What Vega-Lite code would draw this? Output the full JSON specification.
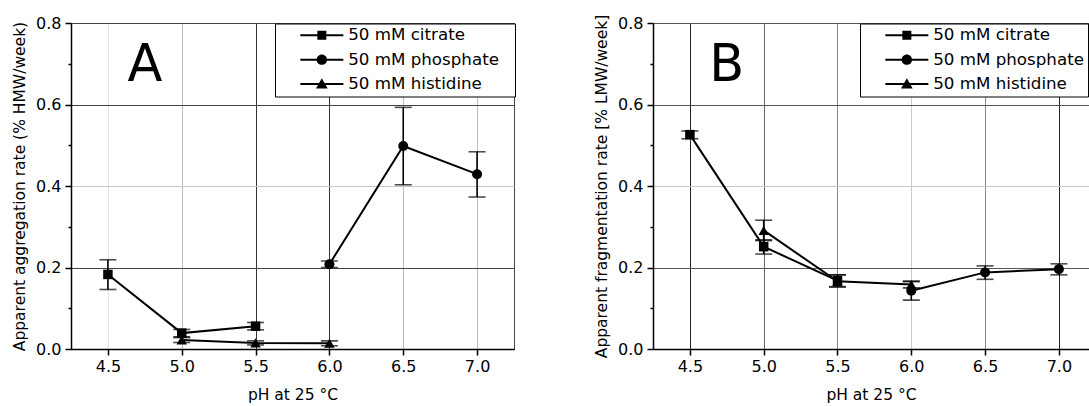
{
  "$schema": "https://vega.github.io/schema/vega-lite/v6.json",
  "background": "white",
  "padding": {"left": 11, "top": 13, "right": 0, "bottom": 0},
  "spacing": 139,
  "bounds": "flush",
  "resolve": {"scale": {"shape": "independent", "size": "independent"}, "legend": {"shape": "independent"}},
  "config": {
    "font": "DejaVu Sans",
    "view": {"stroke": "#444", "strokeWidth": 1},
    "axis": {
      "labelFont": "DejaVu Sans", "titleFont": "DejaVu Sans",
      "labelColor": "black", "titleColor": "black",
      "domainColor": "black", "tickColor": "black",
      "domainWidth": 1.5, "tickWidth": 1.5,
      "labelFontSize": 16, "titleFontSize": 15.5, "titleFontWeight": "normal",
      "gridWidth": 1
    },
    "legend": {
      "labelFont": "DejaVu Sans", "labelColor": "black"
    }
  },
  "datasets": {
    "agg": [
      {"buffer": "50 mM citrate", "ph": 4.5, "rate": 0.183, "lo": 0.146, "hi": 0.219},
      {"buffer": "50 mM citrate", "ph": 5.0, "rate": 0.039, "lo": 0.030, "hi": 0.048},
      {"buffer": "50 mM citrate", "ph": 5.5, "rate": 0.056, "lo": 0.047, "hi": 0.065},
      {"buffer": "50 mM histidine", "ph": 5.0, "rate": 0.022, "lo": 0.016, "hi": 0.028},
      {"buffer": "50 mM histidine", "ph": 5.5, "rate": 0.015, "lo": 0.010, "hi": 0.020},
      {"buffer": "50 mM histidine", "ph": 6.0, "rate": 0.014, "lo": 0.008, "hi": 0.020},
      {"buffer": "50 mM phosphate", "ph": 6.0, "rate": 0.208, "lo": 0.200, "hi": 0.216},
      {"buffer": "50 mM phosphate", "ph": 6.5, "rate": 0.498, "lo": 0.403, "hi": 0.593},
      {"buffer": "50 mM phosphate", "ph": 7.0, "rate": 0.429, "lo": 0.373, "hi": 0.484}
    ],
    "frag": [
      {"buffer": "50 mM citrate", "ph": 4.5, "rate": 0.526, "lo": 0.516, "hi": 0.535},
      {"buffer": "50 mM citrate", "ph": 5.0, "rate": 0.251, "lo": 0.233, "hi": 0.268},
      {"buffer": "50 mM citrate", "ph": 5.5, "rate": 0.168, "lo": 0.153, "hi": 0.182},
      {"buffer": "50 mM histidine", "ph": 5.0, "rate": 0.291, "lo": 0.266, "hi": 0.316},
      {"buffer": "50 mM histidine", "ph": 5.5, "rate": 0.166, "lo": 0.152, "hi": 0.182},
      {"buffer": "50 mM histidine", "ph": 6.0, "rate": 0.158, "lo": 0.150, "hi": 0.166},
      {"buffer": "50 mM phosphate", "ph": 6.0, "rate": 0.143, "lo": 0.120, "hi": 0.166},
      {"buffer": "50 mM phosphate", "ph": 6.5, "rate": 0.188, "lo": 0.171, "hi": 0.204},
      {"buffer": "50 mM phosphate", "ph": 7.0, "rate": 0.196, "lo": 0.182, "hi": 0.209}
    ]
  },
  "hconcat": [
    {
      "width": 443, "height": 326,
      "data": {"name": "agg"},
      "resolve": {"scale": {"shape": "independent", "size": "independent"}},
      "encoding": {
        "x": {"field": "ph", "type": "quantitative",
          "scale": {"domain": [4.25, 7.25], "nice": false, "zero": false},
          "axis": {"title": "pH at 25 °C", "values": [4.5, 5, 5.5, 6, 6.5, 7], "format": ".1f",
            "tickSize": 6, "labelPadding": 3, "titlePadding": 13,
            "gridColor": {"condition": [
              {"test": "datum.value == 5.5 || datum.value == 6", "value": "#333"},
              {"test": "datum.value == 4.5", "value": "#e6e6e6"}
            ], "value": "#bbb"}}},
        "y": {"field": "rate", "type": "quantitative",
          "scale": {"domain": [0, 0.8], "nice": false, "zero": false},
          "axis": {"title": "Apparent aggregation rate (% HMW/week)",
            "values": [0, 0.1, 0.2, 0.3, 0.4, 0.5, 0.6, 0.7, 0.8],
            "labelExpr": "round(datum.value*10) % 2 == 0 ? format(datum.value, '.1f') : ''",
            "tickSize": {"condition": {"test": "round(datum.value*10) % 2 == 1", "value": 3}, "value": 6},
            "gridOpacity": {"condition": {"test": "round(datum.value*10) % 2 == 1", "value": 0}, "value": 1},
            "gridColor": {"condition": {"test": "abs(datum.value - 0.4) < 0.01", "value": "#c8c8c8"}, "value": "#444"},
            "labelPadding": 4, "titlePadding": 8.5}}
      },
      "layer": [
        {"mark": {"type": "rule", "color": "black", "strokeWidth": 1.6},
         "encoding": {"y": {"field": "lo", "type": "quantitative"}, "y2": {"field": "hi"}}},
        {"mark": {"type": "tick", "orient": "horizontal", "color": "black", "size": 17, "thickness": 1.6},
         "encoding": {"y": {"field": "lo", "type": "quantitative"}}},
        {"mark": {"type": "tick", "orient": "horizontal", "color": "black", "size": 17, "thickness": 1.6},
         "encoding": {"y": {"field": "hi", "type": "quantitative"}}},
        {"mark": {"type": "line", "color": "black", "strokeWidth": 2},
         "encoding": {"detail": {"field": "buffer", "type": "nominal"}}},
        {"mark": {"type": "point", "filled": true, "color": "black", "opacity": 1},
         "encoding": {
           "shape": {"field": "buffer", "type": "nominal",
             "scale": {"domain": ["50 mM citrate", "50 mM phosphate", "50 mM histidine"], "range": ["square", "circle", "triangle-up"]},
             "legend": null},
           "size": {"field": "buffer", "type": "nominal",
             "scale": {"domain": ["50 mM citrate", "50 mM phosphate", "50 mM histidine"], "range": [90, 110, 135]},
             "legend": null}}},
        {"transform": [{"filter": "false"}],
         "mark": {"type": "point", "filled": true, "color": "black", "opacity": 1, "size": 81},
         "encoding": {"shape": {"field": "buffer", "type": "nominal",
           "scale": {"domain": ["50 mM citrate", "50 mM phosphate", "50 mM histidine"],
             "range": [
               "M-4.78,-0.22H4.78V0.22H-4.78Z M-1,-1H1V1H-1Z",
               "M-4.78,-0.22H4.78V0.22H-4.78Z M-1.15,0A1.15,1.15,0,1,1,1.15,0A1.15,1.15,0,1,1,-1.15,0Z",
               "M-4.78,-0.22H4.78V0.22H-4.78Z M0,-1.25L1.3,1H-1.3Z"]},
           "legend": {"orient": "none", "legendX": 204, "legendY": 0.5,
             "title": "\u00a0", "titleOrient": "left", "titleFontSize": 10, "titlePadding": 18,
             "padding": 3.5, "rowPadding": 6.3, "strokeColor": "black", "fillColor": "white",
             "symbolSize": 81, "symbolStrokeWidth": 0, "symbolFillColor": "black", "symbolOpacity": 1,
             "symbolOffset": 17,
             "labelFontSize": 16.7, "labelOffset": 18, "labelLimit": 400,
             "labelExpr": "datum.label + '\u2800'"}}}},
        {"data": {"values": [{"panel": "A", "px": 4.75, "py": 0.658}]},
         "mark": {"type": "text", "fontSize": 51, "font": "DejaVu Sans", "align": "center", "baseline": "alphabetic", "color": "black"},
         "encoding": {"x": {"field": "px", "type": "quantitative"}, "y": {"field": "py", "type": "quantitative"}, "text": {"field": "panel"}}}
      ]
    },
    {
      "width": 436, "height": 326,
      "data": {"name": "frag"},
      "resolve": {"scale": {"shape": "independent", "size": "independent"}},
      "encoding": {
        "x": {"field": "ph", "type": "quantitative",
          "scale": {"domain": [4.25, 7.204], "nice": false, "zero": false},
          "axis": {"title": "pH at 25 °C", "values": [4.5, 5, 5.5, 6, 6.5, 7], "format": ".1f",
            "tickSize": 6, "labelPadding": 3, "titlePadding": 13,
            "gridColor": {"condition": [
              {"test": "datum.value == 4.5 || datum.value == 7", "value": "#222"},
              {"test": "datum.value == 5", "value": "#666"},
              {"test": "datum.value == 6", "value": "#ccc"}
            ], "value": "#888"}}},
        "y": {"field": "rate", "type": "quantitative",
          "scale": {"domain": [0, 0.8], "nice": false, "zero": false},
          "axis": {"title": "Apparent fragmentation rate [% LMW/week]",
            "values": [0, 0.1, 0.2, 0.3, 0.4, 0.5, 0.6, 0.7, 0.8],
            "labelExpr": "round(datum.value*10) % 2 == 0 ? format(datum.value, '.1f') : ''",
            "tickSize": {"condition": {"test": "round(datum.value*10) % 2 == 1", "value": 3}, "value": 6},
            "gridOpacity": {"condition": {"test": "round(datum.value*10) % 2 == 1", "value": 0}, "value": 1},
            "gridColor": {"condition": {"test": "abs(datum.value - 0.4) < 0.01", "value": "#c8c8c8"}, "value": "#555"},
            "labelPadding": 4, "titlePadding": 8.5}}
      },
      "layer": [
        {"mark": {"type": "rule", "color": "black", "strokeWidth": 1.6},
         "encoding": {"y": {"field": "lo", "type": "quantitative"}, "y2": {"field": "hi"}}},
        {"mark": {"type": "tick", "orient": "horizontal", "color": "black", "size": 17, "thickness": 1.6},
         "encoding": {"y": {"field": "lo", "type": "quantitative"}}},
        {"mark": {"type": "tick", "orient": "horizontal", "color": "black", "size": 17, "thickness": 1.6},
         "encoding": {"y": {"field": "hi", "type": "quantitative"}}},
        {"mark": {"type": "line", "color": "black", "strokeWidth": 2},
         "encoding": {"detail": {"field": "buffer", "type": "nominal"}}},
        {"mark": {"type": "point", "filled": true, "color": "black", "opacity": 1},
         "encoding": {
           "shape": {"field": "buffer", "type": "nominal",
             "scale": {"domain": ["50 mM citrate", "50 mM phosphate", "50 mM histidine"], "range": ["square", "circle", "triangle-up"]},
             "legend": null},
           "size": {"field": "buffer", "type": "nominal",
             "scale": {"domain": ["50 mM citrate", "50 mM phosphate", "50 mM histidine"], "range": [90, 110, 135]},
             "legend": null}}},
        {"transform": [{"filter": "false"}],
         "mark": {"type": "point", "filled": true, "color": "black", "opacity": 1, "size": 81},
         "encoding": {"shape": {"field": "buffer", "type": "nominal",
           "scale": {"domain": ["50 mM citrate", "50 mM phosphate", "50 mM histidine"],
             "range": [
               "M-4.78,-0.22H4.78V0.22H-4.78Z M-1,-1H1V1H-1Z",
               "M-4.78,-0.22H4.78V0.22H-4.78Z M-1.15,0A1.15,1.15,0,1,1,1.15,0A1.15,1.15,0,1,1,-1.15,0Z",
               "M-4.78,-0.22H4.78V0.22H-4.78Z M0,-1.25L1.3,1H-1.3Z"]},
           "legend": {"orient": "none", "legendX": 207, "legendY": 0.5,
             "title": "\u00a0", "titleOrient": "left", "titleFontSize": 10, "titlePadding": 18,
             "padding": 3.5, "rowPadding": 6.3, "strokeColor": "black", "fillColor": "white",
             "symbolSize": 81, "symbolStrokeWidth": 0, "symbolFillColor": "black", "symbolOpacity": 1,
             "symbolOffset": 17,
             "labelFontSize": 16.7, "labelOffset": 18, "labelLimit": 400}}}},
        {"data": {"values": [{"panel": "B", "px": 4.75, "py": 0.658}]},
         "mark": {"type": "text", "fontSize": 51, "font": "DejaVu Sans", "align": "center", "baseline": "alphabetic", "color": "black"},
         "encoding": {"x": {"field": "px", "type": "quantitative"}, "y": {"field": "py", "type": "quantitative"}, "text": {"field": "panel"}}}
      ]
    }
  ]
}
